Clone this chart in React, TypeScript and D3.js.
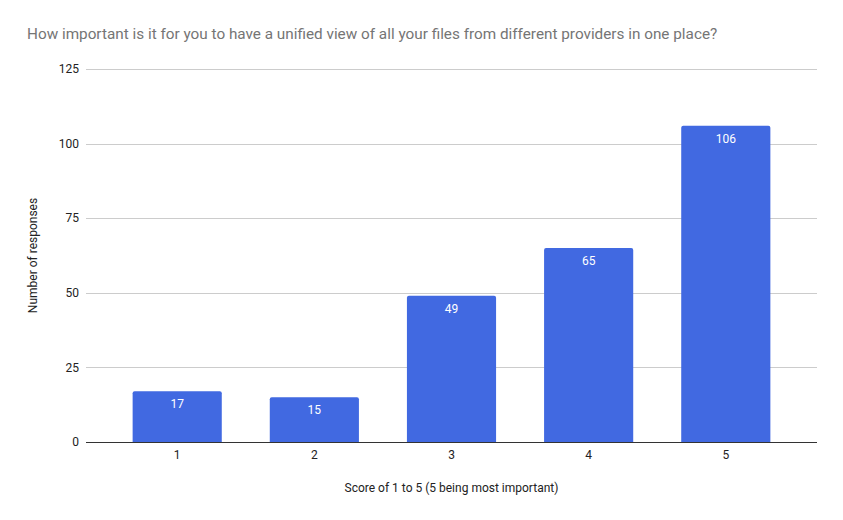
import { useEffect, useRef } from 'react';
import * as d3 from 'd3';

const categories = ['1', '2', '3', '4', '5'];
const responses = [17, 15, 49, 65, 106];
const yTicks = [0, 25, 50, 75, 100, 125];

const TITLE = 'How important is it for you to have a unified view of all your files from different providers in one place?';
const X_TITLE = 'Score of 1 to 5 (5 being most important)';
const Y_TITLE = 'Number of responses';
const BAR_COLOR = '#4169e1';
const FONT = 'Roboto, Arial, sans-serif';

export default function App() {
  const svgRef = useRef<SVGSVGElement>(null);

  useEffect(() => {
    if (!svgRef.current) return;
    const svg = d3.select(svgRef.current);
    svg.selectAll('*').remove();

    const width = 843;
    const height = 520;
    const margin = { top: 69, right: 26, bottom: 78, left: 86 };
    const innerW = width - margin.left - margin.right;
    const innerH = height - margin.top - margin.bottom;

    svg.append('rect').attr('width', width).attr('height', height).attr('fill', '#fff');

    // Title
    svg.append('text')
      .attr('x', 27).attr('y', 39)
      .attr('font-family', FONT)
      .attr('font-size', 15.3)
      .attr('fill', '#757575')
      .text(TITLE);

    const x = d3.scaleBand<string>()
      .domain(categories)
      .range([0, innerW])
      .paddingInner(0.35)
      .paddingOuter(0.34);

    const y = d3.scaleLinear().domain([0, 125]).range([innerH, 0]);

    const g = svg.append('g').attr('transform', `translate(${margin.left},${margin.top})`);

    // Gridlines
    g.selectAll('line.grid')
      .data(yTicks.filter(t => t !== 0))
      .join('line')
      .attr('class', 'grid')
      .attr('x1', 0).attr('x2', innerW)
      .attr('y1', d => Math.round(y(d)) + 0.5)
      .attr('y2', d => Math.round(y(d)) + 0.5)
      .attr('stroke', '#cccccc')
      .attr('stroke-width', 1);

    // Y tick labels
    g.selectAll('text.ytick')
      .data(yTicks)
      .join('text')
      .attr('class', 'ytick')
      .attr('x', -7)
      .attr('y', d => y(d))
      .attr('dy', '0.35em')
      .attr('text-anchor', 'end')
      .attr('font-family', FONT)
      .attr('font-size', 12)
      .attr('fill', '#222')
      .text(d => d);

    // Bars with slightly rounded top corners
    const r = 2;
    g.selectAll('path.bar')
      .data(responses)
      .join('path')
      .attr('class', 'bar')
      .attr('fill', BAR_COLOR)
      .attr('d', (d, i) => {
        const x0 = x(categories[i])!;
        const x1 = x0 + x.bandwidth();
        const y0 = y(d);
        const y1 = y(0);
        return `M${x0},${y1}V${y0 + r}Q${x0},${y0} ${x0 + r},${y0}H${x1 - r}Q${x1},${y0} ${x1},${y0 + r}V${y1}Z`;
      });

    // Bar value labels
    g.selectAll('text.value')
      .data(responses)
      .join('text')
      .attr('class', 'value')
      .attr('x', (_, i) => x(categories[i])! + x.bandwidth() / 2)
      .attr('y', d => y(d) + 17)
      .attr('text-anchor', 'middle')
      .attr('font-family', FONT)
      .attr('font-size', 12)
      .attr('fill', '#fff')
      .text(d => d);

    // Baseline
    g.append('line')
      .attr('x1', 0).attr('x2', innerW)
      .attr('y1', Math.round(y(0)) + 0.5).attr('y2', Math.round(y(0)) + 0.5)
      .attr('stroke', '#333')
      .attr('stroke-width', 1);

    // X tick labels
    g.selectAll('text.xtick')
      .data(categories)
      .join('text')
      .attr('class', 'xtick')
      .attr('x', d => x(d)! + x.bandwidth() / 2)
      .attr('y', innerH + 17)
      .attr('text-anchor', 'middle')
      .attr('font-family', FONT)
      .attr('font-size', 12)
      .attr('fill', '#222')
      .text(d => d);

    // Axis titles
    svg.append('text')
      .attr('x', margin.left + innerW / 2)
      .attr('y', 492)
      .attr('text-anchor', 'middle')
      .attr('font-family', FONT)
      .attr('font-size', 12)
      .attr('fill', '#222')
      .text(X_TITLE);

    svg.append('text')
      .attr('transform', `translate(37,${margin.top + innerH / 2}) rotate(-90)`)
      .attr('text-anchor', 'middle')
      .attr('font-family', FONT)
      .attr('font-size', 12)
      .attr('fill', '#222')
      .text(Y_TITLE);
  }, []);

  return (
    <svg
      ref={svgRef}
      width={843}
      height={520}
      style={{ position: 'absolute', left: 0, top: 0, display: 'block' }}
    />
  );
}
